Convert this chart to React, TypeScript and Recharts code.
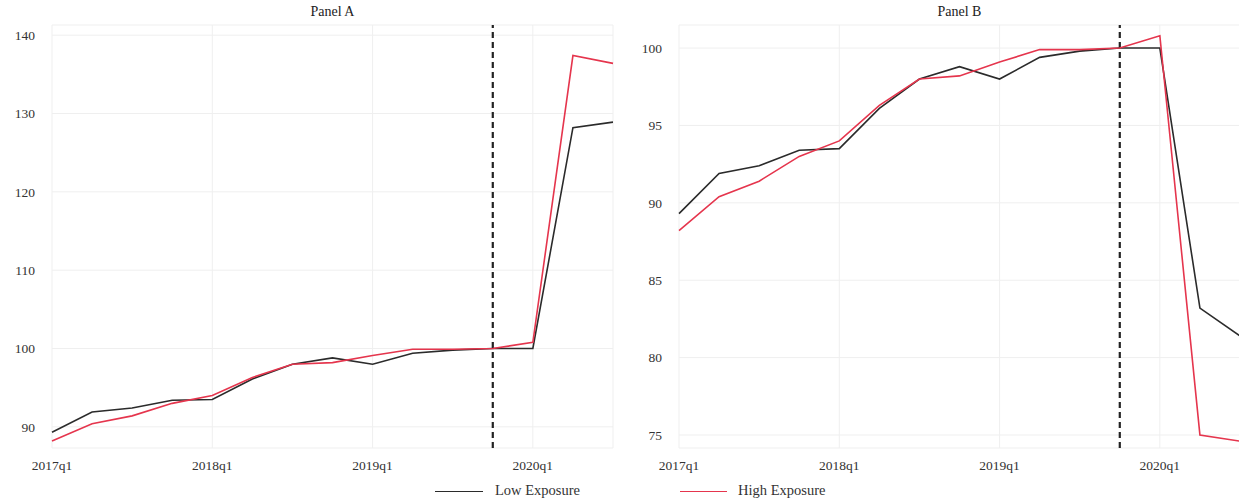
import { LineChart, Line, XAxis, YAxis, CartesianGrid, ReferenceLine } from 'recharts'

const quarters = [
  '2017q1', '2017q2', '2017q3', '2017q4',
  '2018q1', '2018q2', '2018q3', '2018q4',
  '2019q1', '2019q2', '2019q3', '2019q4',
  '2020q1', '2020q2', '2020q3',
]

const lowA = [89.3, 91.9, 92.4, 93.4, 93.5, 96.1, 98.0, 98.8, 98.0, 99.4, 99.8, 100, 100, 128.2, 128.9]
const highA = [88.2, 90.4, 91.4, 93.0, 94.0, 96.3, 98.0, 98.2, 99.1, 99.9, 99.9, 100, 100.8, 137.4, 136.4]
const lowB = [89.3, 91.9, 92.4, 93.4, 93.5, 96.1, 98.0, 98.8, 98.0, 99.4, 99.8, 100, 100, 83.2, 81.4]
const highB = [88.2, 90.4, 91.4, 93.0, 94.0, 96.3, 98.0, 98.2, 99.1, 99.9, 99.9, 100, 100.8, 75.0, 74.6]

const xTicks = ['2017q1', '2018q1', '2019q1', '2020q1']
const yTicksA = [90, 100, 110, 120, 130, 140]
const yTicksB = [75, 80, 85, 90, 95, 100]
const breakQuarter = '2019q4'

const FONT = '"Liberation Serif", "DejaVu Serif", serif'
const LOW = '#2b2b2b'
const HIGH = '#e5354d'
const GRID = '#efefef'

function Panel({ title, low, high, domain, ticks, left }: {
  title: string; low: number[]; high: number[]; domain: [number, number]; ticks: number[]; left: number
}) {
  const data = quarters.map((q, i) => ({ idx: i, q, low: low[i], high: high[i] }))
  const tick = { fontSize: 13.5, fill: '#333', fontFamily: FONT }
  return (
    <div style={{ position: 'absolute', left, top: 0, width: 640, height: 504 }}>
      <div style={{ position: 'absolute', left: 52, width: 561, top: 4, textAlign: 'center', fontFamily: FONT, fontSize: 14, color: '#222' }}>
        {title}
      </div>
      <LineChart width={640} height={504} data={data} margin={{ top: 25, right: 27, bottom: 26, left: 0 }}>
        <CartesianGrid stroke={GRID} strokeWidth={1} />
        <XAxis
          dataKey="idx"
          type="number"
          domain={[0, quarters.length - 1]}
          ticks={xTicks.map(t => quarters.indexOf(t))}
          tickFormatter={(i: number) => quarters[i]}
          axisLine={false}
          tickLine={false}
          tickSize={0}
          tickMargin={12}
          height={30}
          tick={tick}
        />
        <YAxis
          type="number"
          domain={domain}
          ticks={ticks}
          allowDataOverflow
          axisLine={false}
          tickLine={false}
          tickSize={0}
          tickMargin={17}
          width={52}
          tick={tick}
        />
        <ReferenceLine x={quarters.indexOf(breakQuarter)} stroke="#222" strokeWidth={2.2} strokeDasharray="6 4" />
        <Line type="linear" dataKey="low" stroke={LOW} strokeWidth={1.6} dot={false} isAnimationActive={false} />
        <Line type="linear" dataKey="high" stroke={HIGH} strokeWidth={1.6} dot={false} isAnimationActive={false} />
      </LineChart>
    </div>
  )
}

export default function App() {
  const legendText = { position: 'absolute' as const, top: 482, fontFamily: FONT, fontSize: 14.5, color: '#333', whiteSpace: 'nowrap' as const }
  return (
    <div style={{ position: 'absolute', left: 0, top: 0, width: 1239, height: 504, overflow: 'hidden', background: '#fff' }}>
      <Panel title="Panel A" low={lowA} high={highA} domain={[87.3, 141.3]} ticks={yTicksA} left={0} />
      <Panel title="Panel B" low={lowB} high={highB} domain={[74.16, 101.49]} ticks={yTicksB} left={627} />
      <div style={{ position: 'absolute', left: 435, top: 491, width: 48, height: 0, borderTop: `1.6px solid ${LOW}` }} />
      <div style={{ ...legendText, left: 495 }}>Low Exposure</div>
      <div style={{ position: 'absolute', left: 680, top: 491, width: 47, height: 0, borderTop: `1.6px solid ${HIGH}` }} />
      <div style={{ ...legendText, left: 738 }}>High Exposure</div>
    </div>
  )
}
